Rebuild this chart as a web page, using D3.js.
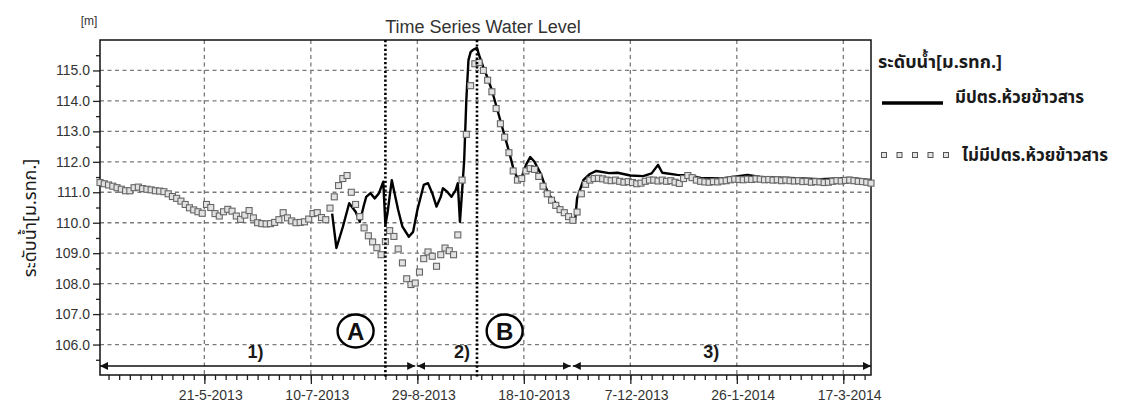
<!DOCTYPE html>
<meta charset="utf-8">
<script src="https://d3js.org/d3.v7.min.js"></script>
<style>
body { margin: 0; background: #fff; }
svg { display: block; font-family: Arial, "Liberation Sans", sans-serif; }
.grid line { stroke: #7a7a7a; stroke-width: 1.3px; stroke-dasharray: 4px 3.5px; }
.axis path { display: none; }
.axis line { stroke: #222; stroke-width: 1.3px; }
.axis text { font-size: 14px; fill: #333; }
.thai { font-family: "Noto Sans Thai", "Noto Sans", "DejaVu Sans", sans-serif; fill: #1a1a1a; }
</style>
<body></body>
<script>

var startDate = "2013-04-02",
    endDate = "2014-03-30";

var tickDates = ["2013-05-21", "2013-07-10", "2013-08-29", "2013-10-18",
                 "2013-12-07", "2014-01-26", "2014-03-17"];
var yTicks = [106, 107, 108, 109, 110, 111, 112, 113, 114, 115];

// without floodgate: one reading every 2 days from startDate
var noGateLevels = [
  111.32, 111.28, 111.24, 111.20, 111.15, 111.10, 111.05, 111.05, 111.15, 111.17,
  111.12, 111.10, 111.08, 111.05, 111.04, 111.02, 110.95, 110.86, 110.80, 110.71,
  110.60, 110.49, 110.42, 110.36, 110.31, 110.60, 110.50, 110.30, 110.22, 110.36,
  110.44, 110.38, 110.22, 110.11, 110.25, 110.40, 110.16, 110.00, 109.97, 109.96,
  109.97, 110.01, 110.10, 110.33, 110.16, 110.06, 110.00, 110.01, 110.03, 110.12,
  110.30, 110.33, 110.17, 110.10, 110.48, 110.85, 111.22, 111.45, 111.55, 111.00,
  110.60, 110.20, 109.83, 109.57, 109.37, 109.18, 108.95, 109.38, 109.74, 109.55,
  109.14, 108.68, 108.16, 107.97, 108.02, 108.38, 108.82, 109.04, 108.90, 108.57,
  108.95, 109.17, 109.08, 108.95, 109.60, 111.40, 112.90, 114.50, 115.22, 115.26,
  115.00, 114.68, 114.30, 113.75, 113.25, 112.81, 112.30, 111.70, 111.40, 111.45,
  111.70, 111.78, 111.75, 111.52, 111.20, 110.95, 110.74, 110.57, 110.43, 110.33,
  110.20, 110.08, 110.35, 110.95, 111.26, 111.40, 111.45, 111.46, 111.44, 111.40,
  111.38, 111.40, 111.36, 111.33, 111.35, 111.32, 111.28, 111.30, 111.36, 111.40,
  111.40, 111.37, 111.40, 111.36, 111.38, 111.33, 111.29, 111.45, 111.55, 111.48,
  111.40, 111.36, 111.34, 111.33, 111.35, 111.34, 111.37, 111.38, 111.41, 111.43,
  111.42, 111.41, 111.43, 111.42, 111.44, 111.43, 111.41, 111.42, 111.40, 111.41,
  111.38, 111.40, 111.38, 111.37, 111.38, 111.35, 111.36, 111.33, 111.35, 111.34,
  111.32, 111.33, 111.36, 111.38, 111.37, 111.39, 111.40, 111.38, 111.36, 111.35,
  111.33, 111.30
];

// with floodgate: day offset from startDate and level
var gateDays = [109, 111, 114, 117, 120, 122, 124, 125, 127, 129, 131, 133, 134, 135,
  137, 138, 140, 142, 145, 147, 149, 152, 154, 156, 158, 160, 161, 163, 165, 167, 168,
  169, 170, 171, 172, 173, 174, 175, 177, 178, 180, 182, 184, 186, 188, 190, 192, 194,
  196, 198, 200, 202, 204, 207, 209, 211, 214, 216, 218, 221, 223, 224, 227, 230, 233,
  239, 243, 249, 255, 259, 262, 264, 271, 277, 282, 291, 304, 310, 324, 338, 352, 362];
var gateLevels = [110.30, 109.17, 109.86, 110.64, 110.36, 110.03, 110.60, 110.85, 110.97,
  110.80, 110.97, 111.35, 109.92, 110.32, 111.40, 111.07, 110.42, 109.87, 109.54, 109.70,
  110.42, 111.24, 111.30, 110.97, 110.53, 110.85, 111.13, 111.02, 110.85, 111.07, 111.30,
  110.03, 111.02, 112.06, 114.03, 115.34, 115.60, 115.67, 115.74, 115.50, 115.10, 114.75,
  114.35, 113.85, 113.35, 112.85, 112.35, 111.80, 111.45, 111.50, 111.90, 112.16, 112.00,
  111.60, 111.20, 110.90, 110.65, 110.48, 110.35, 110.18, 110.02, 110.81, 111.41, 111.60,
  111.70, 111.63, 111.64, 111.55, 111.53, 111.62, 111.90, 111.64, 111.57, 111.55, 111.47,
  111.45, 111.57, 111.50, 111.47, 111.43, 111.47, 111.40];

var markerDates = ["2013-08-14", "2013-09-26"];
var markerLabels = ["A", "B"];
var markerLabelDates = ["2013-07-31", "2013-10-09"];

var periodStarts = ["2013-04-02", "2013-08-29", "2013-11-10"];
var periodEnds = ["2013-08-28", "2013-11-09", "2014-03-30"];
var periodLabels = ["1)", "2)", "3)"];
var periodLabelDates = ["2013-06-14", "2013-09-19", "2014-01-14"];

var legendTitle = "ระดับน้ำ[ม.รทก.]";
var seriesNames = ["มีปตร.ห้วยข้าวสาร", "ไม่มีปตร.ห้วยข้าวสาร"];

var parseTime = d3.timeParse("%Y-%m-%d");
var t0 = parseTime(startDate);

var noGate = noGateLevels.map(function(v, i) {
  return {date: d3.timeDay.offset(t0, i * 2), level: v};
});
var gate = gateLevels.map(function(v, i) {
  return {date: d3.timeDay.offset(t0, gateDays[i]), level: v};
});

var margin = {top: 40, right: 261, bottom: 30, left: 100};
var W = 1132, H = 405;
var width = W - margin.left - margin.right,
    height = H - margin.top - margin.bottom;

var svg = d3.select("body").append("svg")
    .attr("width", W)
    .attr("height", H);

var defs = svg.append("defs");
defs.append("marker")
    .attr("id", "arrow")
    .attr("viewBox", "0 0 10 10")
    .attr("refX", 10).attr("refY", 5)
    .attr("markerWidth", 8).attr("markerHeight", 8)
    .attr("markerUnits", "userSpaceOnUse")
    .attr("orient", "auto-start-reverse")
  .append("path")
    .attr("d", "M0,0L10,5L0,10Z")
    .attr("fill", "#111");

var g = svg.append("g")
    .attr("transform", "translate(" + margin.left + "," + margin.top + ")");

var xScale = d3.scaleTime()
    .domain([parseTime(startDate), parseTime(endDate)])
    .range([0, width]);

var yScale = d3.scaleLinear()
    .domain([105, 116])
    .range([height, 0]);

// gridlines
var grid = g.append("g").attr("class", "grid");
grid.selectAll(".hg").data(yTicks).enter().append("line")
    .attr("x1", 0).attr("x2", width)
    .attr("y1", function(d) { return yScale(d); })
    .attr("y2", function(d) { return yScale(d); });
grid.selectAll(".vg").data(tickDates).enter().append("line")
    .attr("x1", function(d) { return xScale(parseTime(d)); })
    .attr("x2", function(d) { return xScale(parseTime(d)); })
    .attr("y1", 0).attr("y2", height);

// axes
var minorY = d3.range(105.5, 116, 1);
g.append("g").attr("class", "y axis")
    .call(d3.axisLeft(yScale).tickValues(minorY).tickSize(4).tickFormat(""));
g.append("g").attr("class", "y axis")
    .call(d3.axisLeft(yScale).tickValues(yTicks).tickSize(7).tickPadding(3)
      .tickFormat(d3.format(".1f")));

var minorX = [];
for (var i = -10; i <= 70; i++) {
  var d = d3.timeDay.offset(parseTime(tickDates[0]), i * 5);
  if (d >= xScale.domain()[0] && d <= xScale.domain()[1]) minorX.push(d);
}
g.append("g").attr("class", "x axis")
    .attr("transform", "translate(0," + height + ")")
    .call(d3.axisBottom(xScale).tickValues(minorX).tickSize(5).tickFormat(""));
var xAx = g.append("g").attr("class", "x axis")
    .attr("transform", "translate(0," + height + ")")
    .call(d3.axisBottom(xScale).tickValues(tickDates.map(parseTime)).tickSize(9)
      .tickFormat(d3.timeFormat("%-d-%-m-%Y")));
xAx.selectAll("text")
    .attr("text-anchor", "start")
    .attr("x", -26)
    .attr("y", 15)
    .attr("font-size", 13.5);

// frame
g.append("rect")
    .attr("width", width).attr("height", height)
    .attr("fill", "none")
    .attr("stroke", "#111")
    .attr("stroke-width", 1.5);

// period arrows
var periods = g.append("g");
periodLabels.forEach(function(lab, i) {
  periods.append("line")
      .attr("x1", xScale(parseTime(periodStarts[i])))
      .attr("x2", xScale(parseTime(periodEnds[i])))
      .attr("y1", height - 9).attr("y2", height - 9)
      .attr("stroke", "#111").attr("stroke-width", 1.5)
      .attr("marker-start", "url(#arrow)")
      .attr("marker-end", "url(#arrow)");
  periods.append("text")
      .attr("x", xScale(parseTime(periodLabelDates[i])))
      .attr("y", height - 17)
      .attr("text-anchor", "middle")
      .attr("font-size", 18)
      .attr("font-weight", "bold")
      .attr("fill", "#1a1a1a")
      .text(lab);
});

// line series (with floodgate)
var line = d3.line()
    .x(function(d) { return xScale(d.date); })
    .y(function(d) { return yScale(d.level); });

g.append("path")
    .datum(gate)
    .attr("d", line)
    .attr("fill", "none")
    .attr("stroke", "#000")
    .attr("stroke-width", 2.4)
    .attr("stroke-linejoin", "round");

// square series (without floodgate)
g.selectAll(".sq").data(noGate).enter().append("rect")
    .attr("class", "sq")
    .attr("x", function(d) { return xScale(d.date) - 3; })
    .attr("y", function(d) { return yScale(d.level) - 3; })
    .attr("width", 6).attr("height", 6)
    .attr("fill", "#e2e2e2")
    .attr("stroke", "#666")
    .attr("stroke-width", 1.1);

// marker lines A / B
markerDates.forEach(function(md, i) {
  var mx = xScale(parseTime(md));
  g.append("line")
      .attr("x1", mx).attr("x2", mx)
      .attr("y1", 0).attr("y2", height + 2)
      .attr("stroke", "#000")
      .attr("stroke-width", 2.6)
      .attr("stroke-dasharray", "2.2 2.2");
  var cx = xScale(parseTime(markerLabelDates[i]));
  g.append("ellipse")
      .attr("cx", cx).attr("cy", height - 44)
      .attr("rx", 18).attr("ry", 16.5)
      .attr("fill", "#fff")
      .attr("stroke", "#000").attr("stroke-width", 2.4);
  g.append("text")
      .attr("x", cx).attr("y", height - 44)
      .attr("dy", "0.36em")
      .attr("text-anchor", "middle")
      .attr("font-size", 24)
      .attr("font-weight", "bold")
      .attr("fill", "#111")
      .text(markerLabels[i]);
});

// titles
svg.append("text")
    .attr("x", 483).attr("y", 33)
    .attr("text-anchor", "middle")
    .attr("font-size", 18)
    .attr("fill", "#333")
    .text("Time Series Water Level");

svg.append("text")
    .attr("x", 89).attr("y", 25)
    .attr("text-anchor", "middle")
    .attr("font-size", 12)
    .attr("fill", "#333")
    .text("[m]");

svg.append("text")
    .attr("class", "thai")
    .attr("transform", "translate(36,218) rotate(-90)")
    .attr("text-anchor", "middle")
    .attr("font-size", 18)
    .text(legendTitle);

// legend
var leg = svg.append("g").attr("transform", "translate(878,0)");
leg.append("text")
    .attr("class", "thai")
    .attr("x", 0).attr("y", 68)
    .attr("font-size", 18)
    .attr("font-weight", "bold")
    .text(legendTitle);
leg.append("line")
    .attr("x1", 4).attr("x2", 65)
    .attr("y1", 103).attr("y2", 103)
    .attr("stroke", "#000").attr("stroke-width", 3.5);
leg.append("text")
    .attr("class", "thai")
    .attr("x", 77).attr("y", 103)
    .attr("font-size", 17)
    .attr("font-weight", "bold")
    .text(seriesNames[0]);
leg.selectAll(".lsq").data(d3.range(5)).enter().append("rect")
    .attr("x", function(d) { return 6 + d * 15.5 - 2.5; })
    .attr("y", 152.5)
    .attr("width", 5).attr("height", 5)
    .attr("fill", "#e4e4e4")
    .attr("stroke", "#555").attr("stroke-width", 1);
leg.append("text")
    .attr("class", "thai")
    .attr("x", 84).attr("y", 161)
    .attr("font-size", 17)
    .attr("font-weight", "bold")
    .text(seriesNames[1]);

</script>
